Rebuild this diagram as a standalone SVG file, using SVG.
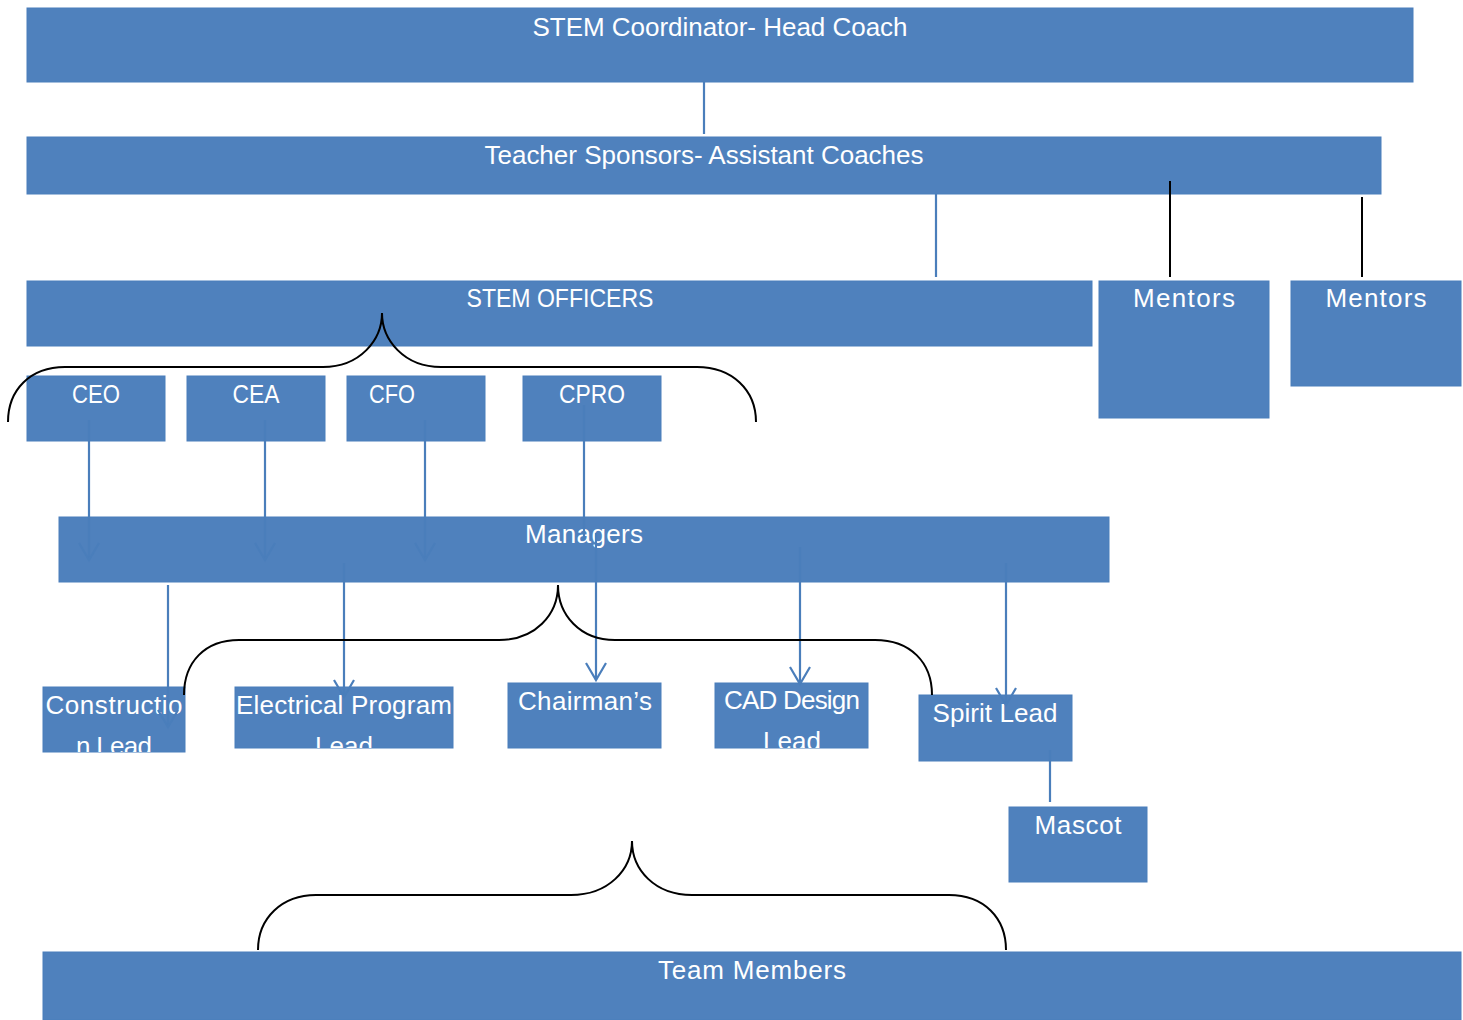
<svg xmlns="http://www.w3.org/2000/svg" width="1463" height="1020" viewBox="0 0 1463 1020">
<style>
.box{fill:#4f81bd;stroke:#4a7ebb;stroke-width:1}
.t{font-family:"Liberation Sans",Arial,sans-serif;font-size:26px;fill:#ffffff;text-anchor:middle}
.c{stroke:#4a7ebb;stroke-width:2.2;fill:none}
.k{stroke:#000000;stroke-width:2;fill:none}
.br{stroke:#000000;stroke-width:2;fill:none}
</style>
<defs>
<marker id="v" markerUnits="userSpaceOnUse" markerWidth="24" markerHeight="24" refX="18" refY="11" orient="auto" viewBox="0 0 24 22">
<path d="M1 1 L18 11 L1 21" fill="none" stroke="#4a7ebb" stroke-width="2.2"/>
</marker>
<clipPath id="cCon"><rect x="43" y="687" width="142" height="65"/></clipPath>
<clipPath id="cEle"><rect x="235" y="687" width="218" height="61"/></clipPath>
<clipPath id="cCad"><rect x="715" y="683" width="153" height="65"/></clipPath>
</defs>

<g id="n-coordinator"><rect class="box" x="27" y="8" width="1386" height="74"/><text class="t" x="720" y="36" textLength="375">STEM Coordinator- Head Coach</text></g>
<g id="n-sponsors"><rect class="box" x="27" y="137" width="1354" height="57"/><text class="t" x="704" y="164" textLength="439">Teacher Sponsors- Assistant Coaches</text></g>
<g id="n-officers"><rect class="box" x="27" y="281" width="1065" height="65"/><text class="t" x="560" y="307" textLength="187" lengthAdjust="spacingAndGlyphs">STEM OFFICERS</text></g>
<g id="n-mentors1"><rect class="box" x="1099" y="281" width="170" height="137"/><text class="t" x="1184" y="307" textLength="102">Mentors</text></g>
<g id="n-mentors2"><rect class="box" x="1291" y="281" width="170" height="105"/><text class="t" x="1376" y="307" textLength="101">Mentors</text></g>
<g id="n-ceo"><rect class="box" x="27" y="376" width="138" height="65"/><text class="t" x="96" y="403" textLength="48" lengthAdjust="spacingAndGlyphs">CEO</text></g>
<g id="n-cea"><rect class="box" x="187" y="376" width="138" height="65"/><text class="t" x="256" y="403" textLength="47" lengthAdjust="spacingAndGlyphs">CEA</text></g>
<g id="n-cfo"><rect class="box" x="347" y="376" width="138" height="65"/><text class="t" x="392" y="403" textLength="46" lengthAdjust="spacingAndGlyphs">CFO</text></g>
<g id="n-cpro"><rect class="box" x="523" y="376" width="138" height="65"/><text class="t" x="592" y="403" textLength="66" lengthAdjust="spacingAndGlyphs">CPRO</text></g>
<g id="n-managers"><rect class="box" x="59" y="517" width="1050" height="65"/><text class="t" x="584" y="543" textLength="118">Managers</text></g>
<g id="n-construction"><rect class="box" x="43" y="687" width="142" height="65"/><g clip-path="url(#cCon)"><text class="t" x="114" y="714" textLength="137">Constructio</text><text class="t" x="114" y="755" textLength="76">n Lead</text></g></g>
<g id="n-electrical"><rect class="box" x="235" y="687" width="218" height="61"/><g clip-path="url(#cEle)"><text class="t" x="344" y="714" textLength="216">Electrical Program</text><text class="t" x="344" y="755">Lead</text></g></g>
<g id="n-chairmans"><rect class="box" x="508" y="683" width="153" height="65"/><text class="t" x="585" y="710" textLength="134">Chairman’s</text></g>
<g id="n-cad"><rect class="box" x="715" y="683" width="153" height="65"/><g clip-path="url(#cCad)"><text class="t" x="792" y="709" textLength="136">CAD Design</text><text class="t" x="792" y="750">Lead</text></g></g>
<g id="n-spirit"><rect class="box" x="919" y="695" width="153" height="66"/><text class="t" x="995" y="722" textLength="125">Spirit Lead</text></g>
<g id="n-mascot"><rect class="box" x="1009" y="807" width="138" height="75"/><text class="t" x="1078" y="834" textLength="87">Mascot</text></g>
<g id="n-team"><rect class="box" x="43" y="952" width="1418" height="68"/><text class="t" x="752" y="979" textLength="188">Team Members</text></g>

<g id="connectors">
<line class="c" x1="704" y1="82" x2="704" y2="134"/>
<line class="c" x1="936" y1="194" x2="936" y2="277"/>
<line class="k" x1="1170" y1="181" x2="1170" y2="277"/>
<line class="k" x1="1362" y1="197" x2="1362" y2="277"/>
<line class="c" x1="89" y1="420" x2="89" y2="560" marker-end="url(#v)"/>
<line class="c" x1="265" y1="420" x2="265" y2="560" marker-end="url(#v)"/>
<line class="c" x1="425" y1="420" x2="425" y2="560" marker-end="url(#v)"/>
<line class="c" x1="584" y1="405" x2="584" y2="540"/>
<line class="c" x1="596" y1="533" x2="596" y2="680" marker-end="url(#v)"/>
<line class="c" x1="168" y1="585" x2="168" y2="727" marker-end="url(#v)"/>
<line class="c" x1="344" y1="563" x2="344" y2="697" marker-end="url(#v)"/>
<line class="c" x1="800" y1="547" x2="800" y2="684" marker-end="url(#v)"/>
<line class="c" x1="1006" y1="563" x2="1006" y2="705" marker-end="url(#v)"/>
<line class="c" x1="1050" y1="750" x2="1050" y2="802"/>
<path class="br" d="M8 422 C8 390 30 367 65 367 L323 367 C360 367 382 340 382 313 C382 340 404 367 441 367 L697 367 C732 367 756 390 756 422"/>
<path class="br" d="M184 695 C184 662 205 640 239 640 L499 640 C535 640 558 615 558 585 C558 615 580 640 615 640 L875 640 C910 640 932 662 932 695"/>
<path class="br" d="M258 950 C258 918 282 895 316 895 L571 895 C608 895 632 870 632 841 C632 870 655 895 692 895 L949 895 C984 895 1006 918 1006 950"/>
</g>
</svg>
